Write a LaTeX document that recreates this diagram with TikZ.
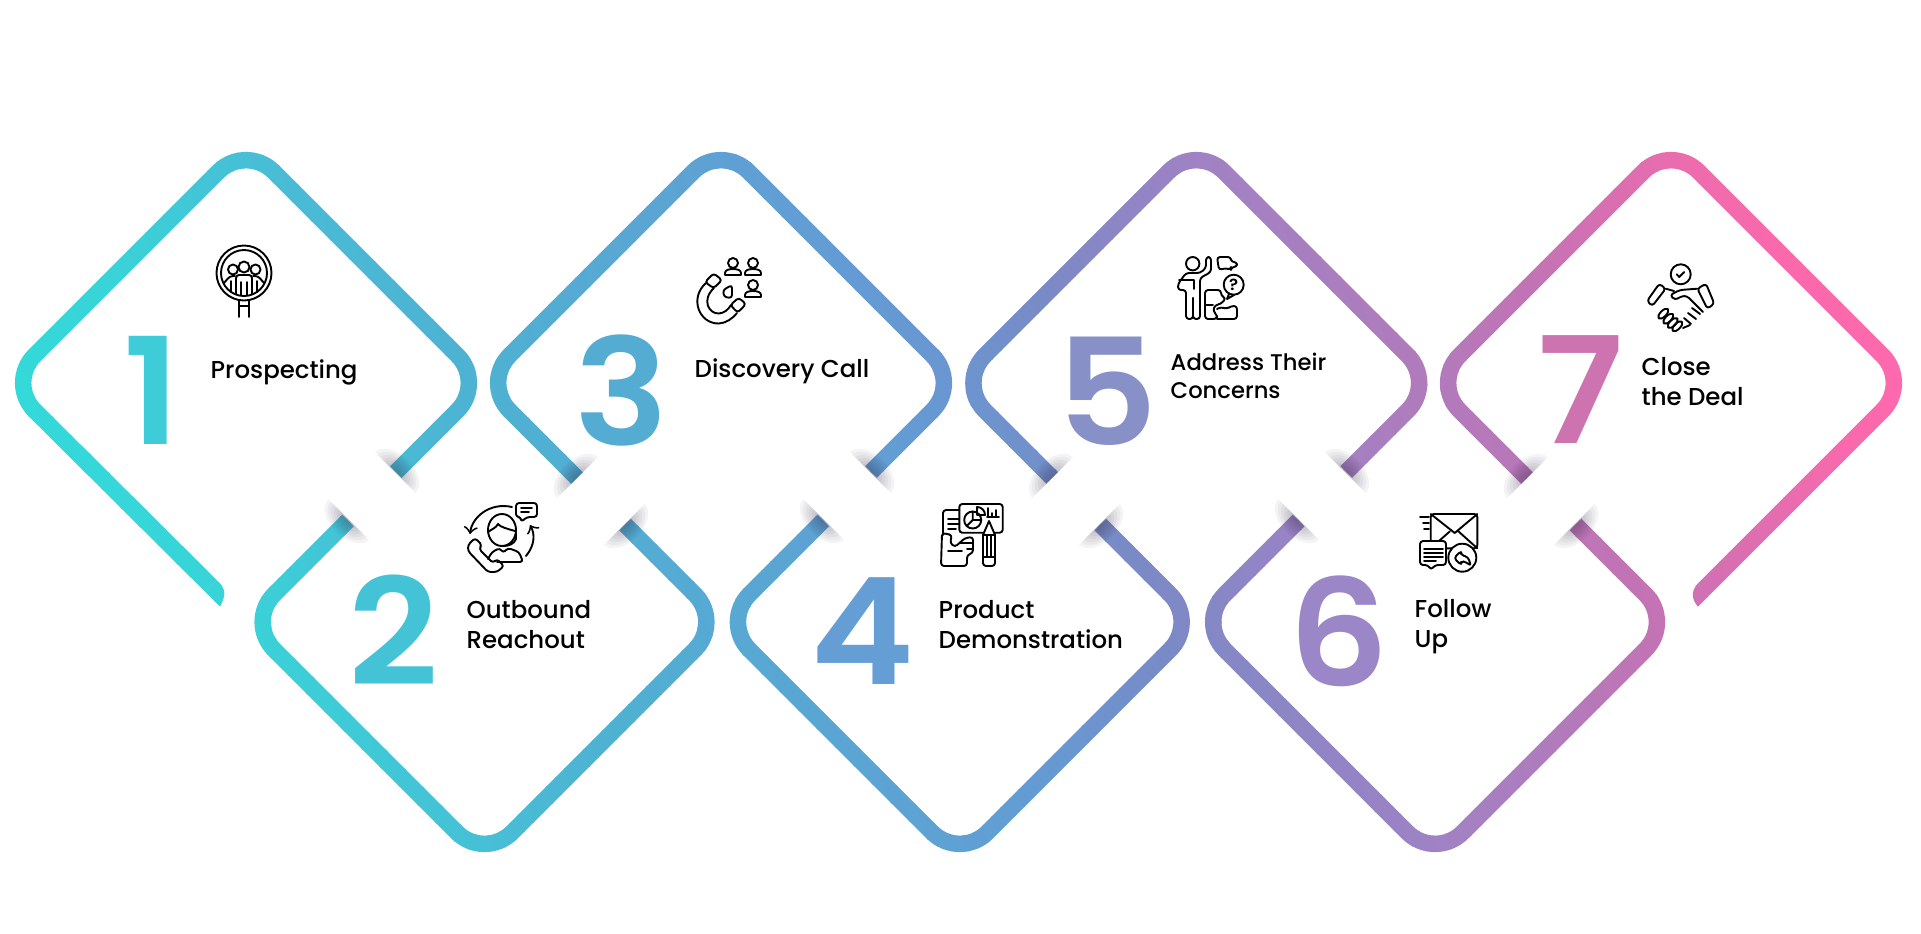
\documentclass[tikz,border=0pt]{standalone}
\usepackage{fontspec}
\setmainfont{Poppins}
\newfontfamily\labelfont{Poppins Medium}
\newfontfamily\digitfont{Poppins SemiBold}[FakeStretch=1.06]
\definecolor{ramp0}{RGB}{50,218,218}
\definecolor{ramp1}{RGB}{56,212,216}
\definecolor{ramp2}{RGB}{72,190,214}
\definecolor{ramp3}{RGB}{78,178,210}
\definecolor{ramp4}{RGB}{100,155,212}
\definecolor{ramp5}{RGB}{122,138,198}
\definecolor{ramp6}{RGB}{160,130,196}
\definecolor{ramp7}{RGB}{172,125,190}
\definecolor{ramp8}{RGB}{195,115,180}
\definecolor{ramp9}{RGB}{250,105,172}
\definecolor{ramp10}{RGB}{255,105,175}
\definecolor{gapshadow}{RGB}{50,40,70}
\tikzset{
	ribbon/.style={
		line width=.165cm,
		rounded corners=.39cm
	},
	stage/.style={
		font=\labelfont\fontsize{6.95}{8.4}\selectfont,
		anchor=base west,
		inner sep=0pt,
		align=left,
		text=black
	},
	stage small/.style={
		stage,
		font=\labelfont\fontsize{6.45}{7.7}\selectfont
	},
	digit/.style={
		font=\digitfont\fontsize{42.2}{44}\selectfont,
		inner sep=0pt
	},
	icon/.style={
		line width=.019cm,
		line cap=round,
		line join=round
	},
	soft/.style={
		rounded corners=.03cm
	}
}
\newcommand{\ribbonpath}{
	\draw[ribbon] (210.85,585.85) -- (7,383) -- (246,144) -- (485,383) -- (396,472);
	\fill (216.7,580) .. controls (222,585) and (225,590) .. (224.3,594) .. controls (224,598) and (222,603) .. (220,606.7) -- (205,591.7) -- cycle;
	\foreach \i in {0,1,2} {
		\draw[ribbon,xshift=\i*4.75cm] (348,520.5) -- (246.5,622) -- (484.5,860) -- (722.5,622) -- (625,524.5);
	}
	\foreach \i in {0,1} {
		\draw[ribbon,xshift=\i*4.75cm] (578,479) -- (482,383) -- (721,144) -- (960,383) -- (871,472);
	}
	\draw[ribbon] (1528,479) -- (1432,383) -- (1671,144) -- (1910,383) -- (1702.8,590.2);
	\fill (1697,584.3) .. controls (1694,588) and (1692,593) .. (1693,597) .. controls (1693.5,601) and (1696,604) .. (1698,606.7) -- (1708.7,596) -- cycle;
}
\newcommand{\gapband}[3]{
	\begin{scope}[shift={(#1,#2)},rotate=#3]
		\foreach \k in {1,...,8} {
			\fill[gapshadow,opacity=.05] (33,0) ellipse ({2.2*\k} and {3.6*\k});
			\fill[gapshadow,opacity=.05] (-33,0) ellipse ({2.2*\k} and {3.6*\k});
		}
		\fill[white] (-33,-46) rectangle (33,46);
	\end{scope}
}
\begin{document}
\begin{tikzpicture}[x=.01cm,y=-.01cm]
	\useasboundingbox (0,0) rectangle (1921,933);
	\fill[white] (0,0) rectangle (1921,933);

	\foreach \sa/\sb/\ca/\cb in {-20/150/ramp0/ramp1,150/330/ramp1/ramp2,330/480/ramp2/ramp3,480/900/ramp3/ramp4,900/1075/ramp4/ramp5,1075/1275/ramp5/ramp6,1275/1390/ramp6/ramp7,1390/1570/ramp7/ramp8,1570/1830/ramp8/ramp9,1830/1960/ramp9/ramp10} {
		\pgfmathtruncatemacro{\n}{(\sb-\sa)/12}
		\pgfmathsetmacro{\w}{(\sb-\sa)/\n}
		\foreach \k in {1,...,\n} {
			\pgfmathsetmacro{\s}{\sa+(\k-1)*\w}
			\pgfmathsetmacro{\pct}{100*(\k-.5)/\n}
			\colorlet{slice}{\cb!\pct!\ca}
			\begin{scope}[color=slice]
				\clip ({\s-134},0) -- ({\s+\w+1-134},0) -- ({\s+\w+1+192},933) -- ({\s+192},933) -- cycle;
				\ribbonpath
			\end{scope}
		}
	}

	\foreach \i in {0,1,2} {
		\gapband{372+\i*475}{496}{45}
		\gapband{601+\i*475}{501}{-45}
	}

	\foreach \n/\x/\y/\r/\g/\b in {1/152/390/62/205/216,2/394/630/68/195/215,3/622/391/85/172/210,4/862/631/100/158/212,5/1107/391/135/145/200,6/1339/631/155/135/200,7/1581/390/205/115/175} {
		\definecolor{digitcolor}{RGB}{\r,\g,\b}
		\node[digit,text=digitcolor] (digit\n) at (\x,\y) {\n};
	}

	\node[stage] (prospecting) at (210,378) {Prospecting};
	\node[stage] (outbound) at (466,648) {Outbound\\Reachout};
	\node[stage] (discovery) at (694,377) {Discovery Call};
	\node[stage] (product) at (938,648) {Product\\Demonstration};
	\node[stage small] (concerns) at (1170,398) {Address Their\\Concerns};
	\node[stage] (follow) at (1414,647) {Follow\\Up};
	\node[stage] (close) at (1641,405) {Close\\the Deal};

	\begin{scope}[shift={(244,273)},icon]
		\draw (0,0) circle (27.5);
		\draw (0,0) circle (23);
		\foreach \x/\y/\r in {-11/-3.5/5,0/-6/5.5,11.5/-3.5/5} {
			\draw (\x,\y) circle (\r);
		}
		\draw[soft] (-8,21) -- (-8,2) -- (8,2) -- (8,21);
		\draw[soft] (-20,10) -- (-14,3) -- (-9,3) (20,10) -- (14,3) -- (9,3);
		\draw (-13,8) -- (-13,19) (13,8) -- (13,19) (-3,9) -- (-3,22) (3,9) -- (3,22);
		\draw (-5,28) -- (-5,44) (5,28) -- (5,44) (-5,33) -- (5,33);
	\end{scope}

	\begin{scope}[shift={(500,537)},icon]
		\draw[soft] (16,-34) -- (37,-34) -- (37,-20) -- (27,-20) -- (21,-15) -- (21,-20) -- (16,-20) -- cycle;
		\draw (21,-29) -- (32,-29) (21,-25) -- (29,-25);
		\draw[->] (12,-30) .. controls (-10,-35) and (-28,-20) .. (-30,-3);
		\draw[->] (26,19) .. controls (35,8) and (35,-3) .. (30,-12);
		\draw (2,-7) ellipse (14 and 16);
		\draw (-12,-5) .. controls (-8,-8) and (-4,-9) .. (-2,-13) .. controls (0,-10) and (8,-8) .. (15,-6);
		\draw (16,-4) -- (16,2) .. controls (14,7) and (9,9) .. (3,9);
		\draw[soft] (-12,22) -- (-8,15) -- (0,11) -- (3,16) -- (8,11) -- (19,15) -- (23,25) -- (-3,25);
		\draw[soft] (-32,8) -- (-25,1) -- (-18,8) -- (-21,12) -- (-7,26) -- (-3,22) -- (4,29) -- (-3,35) -- (-12,35) -- (-32,14) -- cycle;
	\end{scope}

	\begin{scope}[shift={(727,290)},icon]
		\draw[soft] (-22,-8) -- (-13.3,-16.7) -- (-5,-10) -- (-13.3,-1.7) -- cycle;
		\draw[soft] (3.3,15) -- (11.7,7.7) -- (19,14) -- (10.7,22.7) -- cycle;
		\draw (-21,-7) .. controls (-38,8) and (-28,34) .. (-8,33.5) .. controls (-1,33) and (5,29) .. (10,23);
		\draw (-13,-2) .. controls (-26,10) and (-18,24) .. (-8,23.5) .. controls (-3,23) and (1,20) .. (4,15);
		\draw[soft] (-4,0) -- (5,-5) -- (5,8) -- (-3,7) -- cycle;
		\foreach \x/\y in {6/-27,26/-27,26/-5} {
			\draw (\x,\y) circle (5);
			\draw (\x-8,\y+12) -- (\x-8,\y+10) .. controls (\x-8,\y+7) and (\x-4,\y+6) .. (\x,\y+6) .. controls (\x+4,\y+6) and (\x+8,\y+7) .. (\x+8,\y+10) -- (\x+8,\y+12) -- cycle;
		}
	\end{scope}

	\begin{scope}[shift={(970,535)},icon]
		\draw[soft] (-10.7,-31) rectangle (32.7,-2.3);
		\draw[soft] (-10.7,-25) -- (-27,-25) -- (-27,0);
		\draw (-22,-16) -- (-11,-16) (-22,-11) -- (-11,-11) (-22,-6) -- (-14,-6);
		\draw[soft] (-18,0) -- (-28,-2) -- (-29,31) -- (-3,31) -- (-3,20) -- (3,18) -- (3,2) -- (-5,3) -- (-15,12) -- (-20,8) -- cycle;
		\draw (-22,16) -- (-8,16) (-10,8) -- (3,8) (-3,14) -- (3,14);
		\draw (2.7,-15) circle (8.5);
		\draw (2.7,-23.5) -- (2.7,-15) -- (11.2,-15) (2.7,-15) -- (-3.3,-9);
		\draw (7,-28) .. controls (12,-28) and (15,-24) .. (15,-20) -- (7,-20) -- cycle;
		\draw (18,-27) -- (18,-18) (22,-22) -- (22,-18) (26,-25) -- (26,-18) (17,-18) -- (29,-18);
		\draw[fill=white] (13,0) -- (19,-14) -- (25,0) -- cycle;
		\draw[soft] (13,0) -- (13,31) -- (25,31) -- (25,0);
		\draw (13,22) -- (25,22) (17,0) -- (17,22) (21,0) -- (21,22);
	\end{scope}

	\begin{scope}[shift={(1207,288)},icon]
		\draw (-14.3,-24.3) circle (6.7);
		\draw[soft] (-1,-31) -- (4,-31) -- (4,-16) -- (-7,-10) -- (-7,31) -- (-14,31) -- (-14,8) -- (-14,31) -- (-21,31) -- (-21,2) -- (-29,2) -- (-29,-4) -- (-21,-15) -- (-7,-15) -- (-1,-20) -- cycle;
		\draw (-28,-8) -- (-13,-8) -- (-13,1);
		\draw[soft] (10,-31) -- (24,-31) -- (24,-26) -- (30,-26) -- (30,-21) -- (24,-21) -- (24,-18) -- (19,-20) -- (12,-18) -- cycle;
		\draw (26.7,-3.3) circle (10);
		\draw (22,6) -- (20,11) -- (27,7);
		\node[font=\digitfont\fontsize{4.5}{5}\selectfont,inner sep=0pt] (qmark) at (26.7,-3.3) {?};
		\draw[soft] (-2,2) -- (14,2) -- (14,8) -- (19,10) -- (14,16) -- (8,17) -- (6,23) -- (10,27) -- (10,31) -- (-2,31) -- cycle;
		\draw (-2,17) -- (6,17);
		\draw[soft] (10,21) -- (14,19) -- (20,21) -- (24,18) -- (30,18) -- (30,31) -- (10,31);
	\end{scope}

	\begin{scope}[shift={(1448,540)},icon]
		\draw[soft] (-17.3,-26) rectangle (29.3,8.3);
		\draw (-17.3,-26) -- (6.7,-7) -- (29.3,-26) (-17.3,8.3) -- (1.7,-8.5) (29.3,8.3) -- (10,-9);
		\draw (-28,-22.7) -- (-19,-22.7) (-25,-16.7) -- (-19,-16.7) (-24,-10.7) -- (-19,-10.7);
		\draw[soft,fill=white] (-28,1) -- (-2,1) -- (-2,25) -- (-13,25) -- (-17,30) -- (-20,25) -- (-28,25) -- cycle;
		\draw (-24,9) -- (-5,9) (-24,13) -- (-5,13) (-24,17) -- (-5,17) (-24,21) -- (-12,21);
		\draw[fill=white] (14.3,17.7) circle (14);
		\draw[soft] (6,18) -- (13,11) -- (13,15) -- (20,17) -- (23,26) -- (18,22) -- (13,21) -- (13,25) -- cycle;
	\end{scope}

	\begin{scope}[shift={(1680,297)},icon]
		\draw (.7,-22.7) circle (10);
		\draw (-3.3,-22.7) -- (-.7,-20) -- (4.3,-25);
		\draw[soft] (-33,4) -- (-20.7,-13.3) -- (-14.3,-8.3) -- (-27.7,9) -- cycle;
		\draw[soft] (17.3,-8.3) -- (26,-13.3) -- (34.3,6.7) -- (27.3,11.7) -- cycle;
		\draw[soft] (17.3,-8.3) -- (0,-7) -- (-10,-2) -- (-5,3) -- (2,-1) -- (7,-1) -- (23,15);
		\draw[soft] (-14.3,-8.3) -- (-6,-6);
		\draw (20,17) -- (12,11) (16,22) -- (8,16) (11,27) -- (4,21);
		\draw (3,31) -- (10,28);
		\foreach \x/\y in {-16.7/16.7,-11.7/21.7,-7.3/26,-2.7/29.3} {
			\draw[rotate around={45:(\x,\y)}] (\x,\y) ellipse (6.5 and 3);
		}
	\end{scope}
\end{tikzpicture}
\end{document}
